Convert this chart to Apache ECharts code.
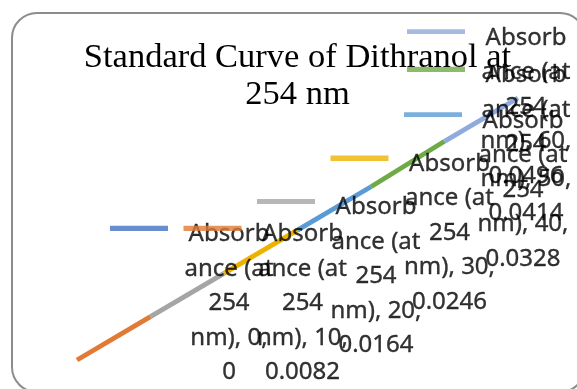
<!DOCTYPE html>
<html>
<head>
<meta charset="utf-8">
<script src="https://cdn.jsdelivr.net/npm/echarts@6/dist/echarts.min.js"></script>
<style>
  html, body { margin: 0; padding: 0; background: #fff; }
  #chart { width: 577px; height: 389px; }
</style>
</head>
<body>
<div id="chart"></div>
<script>
// ---- data ----
const seriesName = 'Absorbance (at 254 nm)';
const concentrations = [0, 10, 20, 30, 40, 50, 60];
const absorbance = [0, 0.0082, 0.0164, 0.0246, 0.0328, 0.0414, 0.0496];
const pointColors = ['#4472C4', '#E07A35', '#A5A5A5', '#EDB200', '#5B9BD5', '#6EAB46', '#8FAADC'];
const titleLines = ['Standard Curve of Dithranol at', '254 nm'];

const chart = echarts.init(document.getElementById('chart'), null, { renderer: 'canvas' });

const points = concentrations.map((c, i) => [c, absorbance[i]]);

// line segments: segment ending at point i uses point i's colour
const segSeries = [];
for (let i = 1; i < points.length; i++) {
  segSeries.push({
    type: 'line',
    name: seriesName + ' ' + i,
    data: [points[i - 1], points[i]],
    showSymbol: false,
    symbol: 'none',
    lineStyle: { color: pointColors[i], width: 4.8, cap: 'butt' },
    z: 2,
    silent: true
  });
}

// label text, broken the way the reference wraps it
function labelText(i) {
  const words = seriesName; // "Absorbance (at 254 nm)"
  const l1 = words.slice(0, 6);            // Absorb
  const l2 = words.slice(6, 14);           // ance (at
  const l3 = words.slice(15, 18);          // 254
  const l4 = words.slice(19) + ', ' + concentrations[i] + ','; // nm), X,
  const l5 = String(absorbance[i]);
  return '{k' + i + '|}{g|}{t|' + l1 + '}\n{s|}{t|' + l2 + '}\n{s|}{t|' + l3 + '}\n{s|}{t|' + l4 + '}\n{s|}{t|' + l5 + '}';
}

const rich = {
  g: { width: 15, height: 34.5, lineHeight: 34.5 },
  s: { width: 73, height: 34.5, lineHeight: 34.5 },
  t: {
    width: 92, align: 'center', fontSize: 24, lineHeight: 34.5,
    fontFamily: '"Noto Sans", "Open Sans", sans-serif', color: '#000000',
    textBorderColor: '#000000', textBorderWidth: 0.35
  }
};
// legend key: a short thick line, sitting a little above the text middle
pointColors.forEach((c, i) => {
  rich['k' + i] = {
    width: 58, height: 17, lineHeight: 34.5,
    backgroundColor: {
      type: 'linear', x: 0, y: 0, x2: 0, y2: 1,
      colorStops: [
        { offset: 0, color: c },
        { offset: 5 / 17, color: c },
        { offset: 5 / 17, color: 'rgba(255,255,255,0)' },
        { offset: 1, color: 'rgba(255,255,255,0)' }
      ]
    }
  };
});

// label block geometry (Excel "right" label, kept inside the chart area)
const BLOCK_DX = 115.5, BLOCK_DY = 3, HALF_W = 82.5, HALF_H = 86.25;
const AREA_RIGHT = 572, AREA_BOTTOM = 389.5, AREA_TOP = 20.5;

function buildLabelData(offsets) {
  return points.map((p, i) => ({
    value: p,
    label: {
      show: true,
      formatter: labelText(i),
      position: 'inside',
      offset: offsets[i],
      align: 'center',
      verticalAlign: 'middle',
      color: '#000000',
      rich: rich
    }
  }));
}

const baseOption = {
  animation: false,
  backgroundColor: '#ffffff',
  title: {
    text: titleLines.join('\n'),
    left: 297.5,
    top: 39,
    textAlign: 'center',
    padding: 0,
    textStyle: {
      fontFamily: '"Liberation Serif", "Times New Roman", serif',
      fontSize: 34.5,
      fontWeight: 'normal',
      color: '#000',
      lineHeight: 37
    }
  },
  graphic: [{
    type: 'rect',
    shape: { x: 12, y: 13, width: 573, height: 379, r: 25 },
    style: { fill: 'none', stroke: '#8c8c8c', lineWidth: 2 },
    z: 0,
    silent: true
  }],
  grid: { left: 77, right: 59, top: 95.9, bottom: 29 },
  xAxis: { type: 'value', min: 0, max: 60, show: false },
  yAxis: { type: 'value', min: 0, max: 0.05, show: false },
  series: segSeries.concat([{
    type: 'scatter',
    id: 'labels',
    name: seriesName,
    data: buildLabelData(points.map(() => [BLOCK_DX, BLOCK_DY])),
    symbolSize: 0,
    z: 5,
    silent: true
  }])
};
chart.setOption(baseOption);

// clamp label blocks inside the chart area, as the reference does
const offsets = points.map(p => {
  const px = chart.convertToPixel({ gridIndex: 0 }, p);
  let cx = px[0] + BLOCK_DX, cy = px[1] + BLOCK_DY;
  cx = Math.min(cx, AREA_RIGHT - HALF_W);
  cy = Math.min(cy, AREA_BOTTOM - HALF_H);
  cy = Math.max(cy, AREA_TOP + HALF_H);
  return [cx - px[0], cy - px[1]];
});
chart.setOption({ series: [{ id: 'labels', data: buildLabelData(offsets) }] });
</script>
</body>
</html>
